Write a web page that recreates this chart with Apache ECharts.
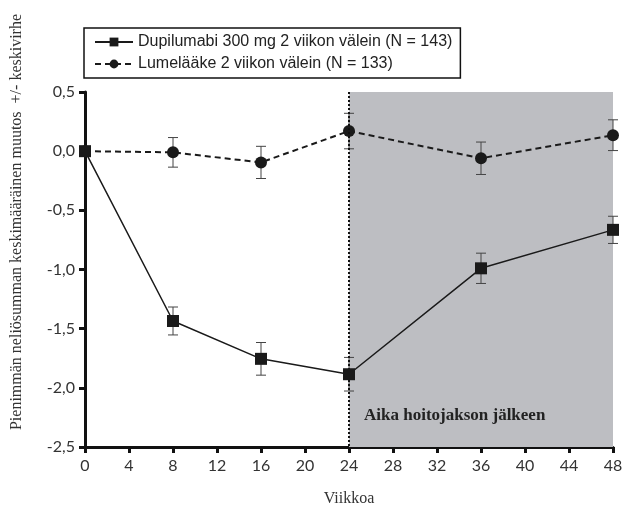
<!DOCTYPE html>
<html>
<head>
<meta charset="utf-8">
<script src="https://cdn.jsdelivr.net/npm/echarts@6/dist/echarts.min.js"></script>
<style>html,body{margin:0;padding:0;background:#fff;}#c{width:625px;height:508px;}</style>
</head>
<body>
<div id="c"></div>
<script>
const weeks = [0, 8, 16, 24, 36, 48];
const dupiName = 'Dupilumabi 300 mg 2 viikon välein (N = 143)';
const placeboName = 'Lumelääke 2 viikon välein (N = 133)';
const dupiMean = [0.0, -1.435, -1.755, -1.885, -0.99, -0.665];
const dupiSE = [0, 0.118, 0.138, 0.142, 0.128, 0.115];
const placeboMean = [0.0, -0.01, -0.095, 0.17, -0.06, 0.135];
const placeboSE = [0, 0.125, 0.136, 0.15, 0.137, 0.13];
const xTicks = [0, 4, 8, 12, 16, 20, 24, 28, 32, 36, 40, 44, 48];
const yTicks = [-2.5, -2.0, -1.5, -1.0, -0.5, 0.0, 0.5];
const postLabel = 'Aika hoitojakson jälkeen';
const yTitle = 'Pienimmän neliösumman keskimääräinen muutos  +/- keskivirhe';
const xTitle = 'Viikkoa';

function errData(means, ses) {
  return weeks.map((w, i) => [w, means[i] - ses[i], means[i] + ses[i]]).filter((d, i) => ses[i] > 0);
}
function errRender(params, api) {
  const x = api.value(0);
  const lo = api.coord([x, api.value(1)]);
  const hi = api.coord([x, api.value(2)]);
  const hw = 5;
  const style = { stroke: '#444', lineWidth: 1, fill: null };
  return {
    type: 'group',
    children: [
      { type: 'line', shape: { x1: lo[0], y1: lo[1], x2: hi[0], y2: hi[1] }, style },
      { type: 'line', shape: { x1: lo[0] - hw, y1: lo[1], x2: lo[0] + hw, y2: lo[1] }, style },
      { type: 'line', shape: { x1: hi[0] - hw, y1: hi[1], x2: hi[0] + hw, y2: hi[1] }, style }
    ]
  };
}

const chart = echarts.init(document.getElementById('c'), null, { renderer: 'canvas' });
const fmt = v => (v < 0 ? '-' : '') + Math.abs(v).toFixed(1).replace('.', ',');

chart.setOption({
  animation: false,
  backgroundColor: '#fff',
  grid: { left: 85, right: 12, top: 92, bottom: 61, containLabel: false, outerBoundsMode: 'none' },
  legend: {
    orient: 'vertical',
    left: 84, top: 28,
    data: [dupiName, placeboName],
    borderColor: '#111', borderWidth: 1.5, borderRadius: 0,
    padding: [6, 8, 6, 10],
    itemGap: 6, itemWidth: 38, itemHeight: 11,
    textStyle: { fontFamily: 'Liberation Sans, Arial', fontSize: 16, color: '#222' }
  },
  xAxis: {
    type: 'value', min: 0, max: 48, interval: 4,
    name: xTitle, nameLocation: 'middle', nameGap: 44,
    nameTextStyle: { fontFamily: 'Liberation Serif', fontSize: 16, color: '#333' },
    axisLine: { onZero: false, lineStyle: { color: '#111', width: 3 } },
    axisTick: { show: true, length: 6, lineStyle: { color: '#111', width: 3 } },
    axisLabel: { margin: 11, fontFamily: 'Lato', fontSize: 16, color: '#333',
      customValues: xTicks, formatter: v => String(v) },
    splitLine: { show: false }
  },
  yAxis: {
    type: 'value', min: -2.5, max: 0.5, interval: 0.5,
    axisLine: { onZero: false, lineStyle: { color: '#111', width: 3 } },
    axisTick: { show: true, length: 6, lineStyle: { color: '#111', width: 3 } },
    axisLabel: { margin: 10, fontFamily: 'Lato', fontSize: 16, color: '#333',
      customValues: yTicks, formatter: fmt },
    splitLine: { show: false }
  },
  graphic: [{
    type: 'text', x: 17, y: 222, rotation: Math.PI / 2,
    style: { text: yTitle, align: 'center', verticalAlign: 'middle',
      font: '16px "Liberation Serif"', fill: '#333' }
  }],
  series: [
    {
      name: 'bg', type: 'line', data: [], silent: true,
      markArea: {
        silent: true,
        itemStyle: { color: '#bdbec2' },
        label: { show: true, position: 'insideBottomLeft', offset: [10, -18],
          formatter: postLabel, fontFamily: 'Liberation Serif', fontWeight: 'bold',
          fontSize: 17, color: '#222' },
        data: [[{ xAxis: 24, yAxis: 0.5 }, { xAxis: 48, yAxis: -2.5 }]]
      },
      markLine: {
        silent: true, symbol: 'none', label: { show: false },
        lineStyle: { type: 'dotted', color: '#111', width: 2 },
        data: [[{ coord: [24, 0.5] }, { coord: [24, -2.5] }]]
      }
    },
    {
      name: 'placeboErr', type: 'custom', renderItem: errRender,
      data: errData(placeboMean, placeboSE), encode: { x: 0, y: [1, 2] }, z: 3
    },
    {
      name: 'dupiErr', type: 'custom', renderItem: errRender,
      data: errData(dupiMean, dupiSE), encode: { x: 0, y: [1, 2] }, z: 3
    },
    {
      name: placeboName, type: 'line',
      data: weeks.map((w, i) => [w, placeboMean[i]]),
      symbol: 'circle', symbolSize: 12,
      itemStyle: { color: '#1a1a1a' },
      lineStyle: { color: '#1a1a1a', width: 2, type: [6, 4] }, z: 4
    },
    {
      name: dupiName, type: 'line',
      data: weeks.map((w, i) => [w, dupiMean[i]]),
      symbol: 'rect', symbolSize: 12,
      itemStyle: { color: '#1a1a1a' },
      lineStyle: { color: '#1a1a1a', width: 1.5 }, z: 5
    }
  ]
});
</script>
</body>
</html>
